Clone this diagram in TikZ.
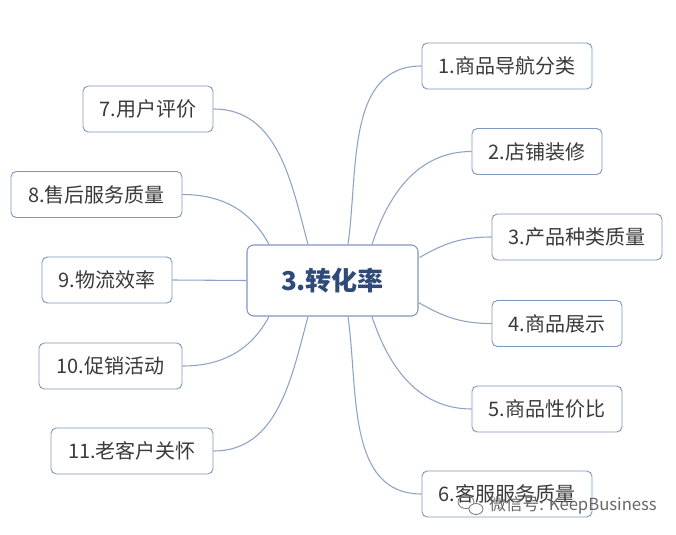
\documentclass[tikz,border=0pt]{standalone}
\usepackage{fontspec}
\setmainfont{Noto Sans CJK SC}
\usetikzlibrary{calc}
\usepackage{xcolor}
\definecolor{edgeblue}{HTML}{8DA3C6}
\definecolor{boxblue}{HTML}{7F97BF}
\definecolor{hubtext}{HTML}{2F4A78}
\definecolor{leaftext}{HTML}{3A3A3A}

\begin{document}
\begin{tikzpicture}[x=0.75pt, y=0.75pt,
  hub/.style={draw=boxblue, line width=0.8pt, rounded corners=5pt, fill=white, minimum width=128.25pt, minimum height=53.25pt, font=\fontsize{19.5}{22}\selectfont\bfseries, text=hubtext},
  leaf/.style={draw=boxblue, line width=0.7pt, rounded corners=4pt, fill=white, minimum height=34.5pt, inner xsep=0pt, font=\fontsize{15}{18}\selectfont, text=leaftext},
  lnk/.style={edgeblue, line width=0.8pt}]
\useasboundingbox (0,0) rectangle (676,-535);

%% ── centre ───────────────────────────────────────────────
\node[hub] (c) at (332.5,-280.5) {3.转化率};

%% ── right branch ─────────────────────────────────────────
\node[leaf, minimum width=127.5pt] (n1) at (507,-66)    {1.商品导航分类};
\node[leaf, minimum width=97.5pt]  (n2) at (537,-151.5) {2.店铺装修};
\node[leaf, minimum width=127.5pt] (n3) at (577,-237)   {3.产品种类质量};
\node[leaf, minimum width=97.5pt]  (n4) at (557,-323.5) {4.商品展示};
\node[leaf, minimum width=112.5pt] (n5) at (547,-409)   {5.商品性价比};
\node[leaf, minimum width=127.5pt] (n6) at (507,-494)   {6.客服服务质量};

%% ── left branch ──────────────────────────────────────────
\node[leaf, minimum width=97.5pt]  (n7)  at (148,-109)     {7.用户评价};
\node[leaf, minimum width=128.25pt] (n8) at (96.5,-194.5)  {8.售后服务质量};
\node[leaf, minimum width=97.5pt]  (n9)  at (107,-280)     {9.物流效率};
\node[leaf, minimum width=107.25pt] (n10) at (110.5,-366)  {10.促销活动};
\node[leaf, minimum width=121.5pt] (n11) at (132,-451)     {11.老客户关怀};

%% ── connectors ───────────────────────────────────────────
\draw[lnk] ($(c.north)+(15.5,0)$)  to[out=82,in=180]  (n1.west);
\draw[lnk] ($(c.north)+(39.5,0)$)  to[out=72,in=180]  (n2.west);
\draw[lnk] ($(c.east)+(1,23)$)     to[out=30,in=180]  (n3.west);
\draw[lnk] ($(c.east)+(0,-22)$)    to[out=-30,in=180] (n4.west);
\draw[lnk] ($(c.south)+(39.5,0)$)  to[out=-72,in=180] (n5.west);
\draw[lnk] ($(c.south)+(15.5,0)$)  to[out=-82,in=180] (n6.west);
\draw[lnk] ($(c.north)+(-24.5,0)$) to[out=105,in=0]   (n7.east);
\draw[lnk] ($(c.north)+(-63.5,0)$) to[out=118,in=0]   (n8.east);
\draw[lnk] (c.west) -- (n9.east);
\draw[lnk] ($(c.south)+(-63.5,0)$) to[out=-118,in=0]  (n10.east);
\draw[lnk] ($(c.south)+(-24.5,0)$) to[out=-105,in=0]  (n11.east);

%% ── watermark ────────────────────────────────────────────
\begin{scope}[black!55, line width=0.6pt]
\draw (466,-502) ellipse (8 and 6.5);
\draw[fill=white] (476,-509) ellipse (7 and 5.5);
\end{scope}
\node[anchor=west, font=\fontsize{12.5}{15}\selectfont, text=black!60, inner sep=0pt] (wm) at (489,-505) {微信号: KeepBusiness};
\end{tikzpicture}
\end{document}
